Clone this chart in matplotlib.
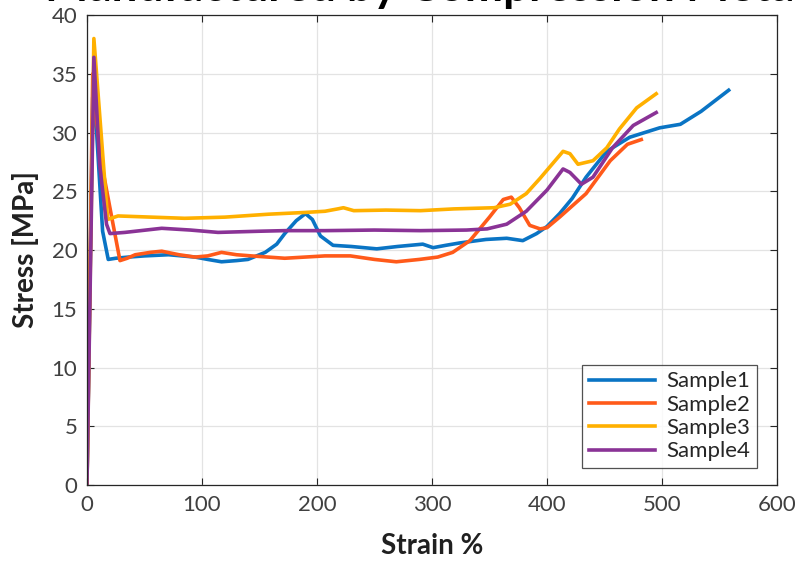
import matplotlib
matplotlib.use("Agg")
import matplotlib.pyplot as plt

# values
s1_strain = [0, 5, 8.4, 13.6, 18.5, 25, 36, 50, 71, 94, 105, 117, 130, 140, 155, 165, 172, 182, 190, 196,
             203, 214, 230, 252, 270, 292, 301, 312, 324, 347, 365, 379, 391, 400, 411, 422, 434, 452, 472,
             498, 516, 534, 558]
s1_stress = [0, 33, 30, 21.6, 19.2, 19.3, 19.4, 19.5, 19.6, 19.4, 19.2, 19.0, 19.1, 19.2, 19.8, 20.5, 21.4,
             22.5, 23.1, 22.6, 21.2, 20.4, 20.3, 20.1, 20.3, 20.5, 20.2, 20.4, 20.6, 20.9, 21.0, 20.8, 21.4,
             22.0, 23.1, 24.4, 26.2, 28.4, 29.6, 30.4, 30.7, 31.8, 33.6]

s2_strain = [0, 5, 7, 14, 21.5, 28.7, 35, 42, 55, 65, 80, 94, 105, 117, 130, 143, 172, 207, 229, 250, 269,
             289, 305, 318, 333, 350, 362, 369, 376, 385, 394, 400, 411, 434, 455, 470, 482]
s2_stress = [0, 35, 32, 26.7, 22.8, 19.1, 19.3, 19.6, 19.8, 19.9, 19.6, 19.4, 19.5, 19.8, 19.6, 19.5, 19.3,
             19.5, 19.5, 19.2, 19.0, 19.2, 19.4, 19.8, 20.8, 22.8, 24.3, 24.5, 23.6, 22.1, 21.8, 21.9, 22.8,
             24.8, 27.6, 29.0, 29.4]

s3_strain = [0, 6, 18, 27, 56, 85, 120, 158, 190, 207, 218, 223, 232, 260, 290, 319, 354, 368, 382, 394,
             414, 420, 427, 440, 452, 463, 478, 495]
s3_stress = [0, 38, 22.6, 22.9, 22.8, 22.7, 22.8, 23.05, 23.2, 23.3, 23.5, 23.6, 23.35, 23.4, 23.35, 23.5,
             23.6, 23.9, 24.8, 26.1, 28.4, 28.2, 27.3, 27.6, 28.7, 30.3, 32.1, 33.3]

s4_strain = [0, 6, 11, 17, 20, 33, 65, 90, 114, 150, 172, 207, 250, 290, 330, 348, 365, 382, 394, 400, 414,
             420, 430, 440, 457, 475, 495]
s4_stress = [0, 36.4, 27.3, 22.2, 21.4, 21.5, 21.85, 21.7, 21.5, 21.6, 21.65, 21.65, 21.7, 21.65, 21.7,
             21.8, 22.2, 23.3, 24.5, 25.1, 26.9, 26.6, 25.6, 26.2, 28.7, 30.6, 31.7]

labels = ["Sample1", "Sample2", "Sample3", "Sample4"]
colors = ["#0a74c4", "#ff5a1a", "#ffb000", "#8a3396"]

plt.rcParams["font.family"] = ["Lato", "DejaVu Sans"]

fig = plt.figure(figsize=(7.95, 5.63), dpi=100)
ax = fig.add_axes([0.1094, 0.1385, 0.8679, 0.8348])

series = [(s1_strain, s1_stress), (s2_strain, s2_stress), (s3_strain, s3_stress), (s4_strain, s4_stress)]
for (x, y), lab, c in zip(series, labels, colors):
    ax.plot(x, y, color=c, lw=2.6, label=lab)

ax.set_xlim(0, 600)
ax.set_ylim(0, 40)
ax.set_xticks(range(0, 601, 100))
ax.set_yticks(range(0, 41, 5))
ax.grid(True, color="#e3e3e3", lw=0.9)
ax.set_axisbelow(True)
ax.tick_params(direction="in", top=True, right=True, labelsize=16, colors="#262626",
               labelcolor="#404040", length=5, pad=7)
for sp in ax.spines.values():
    sp.set_color("#262626")
    sp.set_linewidth(0.9)

ax.set_xlabel("Strain %", fontsize=20, fontweight="bold", color="#202020")
ax.set_ylabel("Stress [MPa]", fontsize=20, fontweight="bold", color="#202020")
ax.xaxis.set_label_coords(0.5, -0.102)
ax.yaxis.set_label_coords(-0.07, 0.5)

# title is clipped at the top edge, as in the reference
fig.text(0.535, 0.999, "Manufactured by Compression Metal", fontsize=33, fontweight="bold",
         ha="center", va="baseline", color="black")

leg = ax.legend(loc="lower right", fontsize=16, frameon=True, fancybox=False, handlelength=3.0,
                borderpad=0.3, labelspacing=0.15, handletextpad=0.5, borderaxespad=0,
                bbox_to_anchor=(0.971, 0.036))
leg.get_frame().set_edgecolor("#262626")
leg.get_frame().set_linewidth(0.9)
for t in leg.get_texts():
    t.set_color("#262626")

fig.savefig("out.png", dpi=100)
